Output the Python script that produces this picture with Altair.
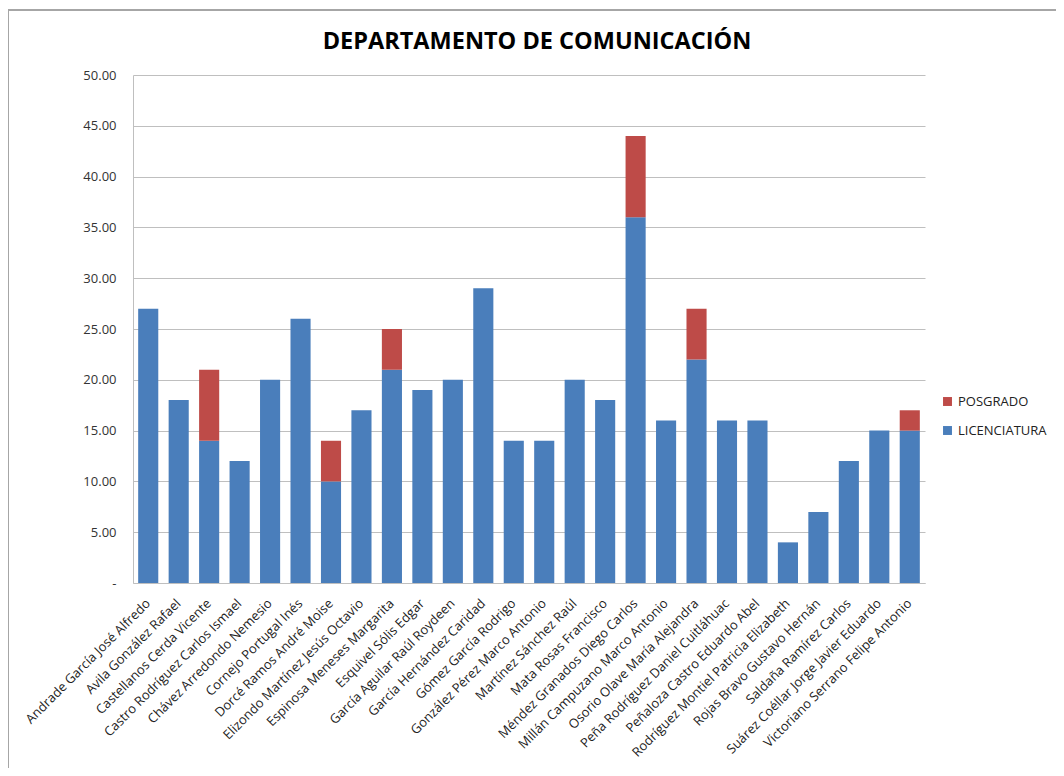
import altair as alt
import pandas as pd

names = [
    "Andrade García José Alfredo", "Avila González Rafael", "Castellanos Cerda Vicente",
    "Castro Rodríguez Carlos Ismael", "Chávez Arredondo Nemesio", "Cornejo Portugal Inés",
    "Dorcé Ramos André Moise", "Elizondo Martínez Jesús Octavio", "Espinosa Meneses Margarita",
    "Esquivel Sólis Edgar", "García Aguilar Raúl Roydeen", "García Hernández Caridad",
    "Gómez García Rodrigo", "González Pérez Marco Antonio", "Martínez Sánchez Raúl",
    "Mata Rosas Francisco", "Méndez Granados Diego Carlos", "Millán Campuzano Marco Antonio",
    "Osorio Olave María Alejandra", "Peña Rodríguez Daniel Cuitláhuac", "Peñaloza Castro Eduardo Abel",
    "Rodríguez Montiel Patricia Elizabeth", "Rojas Bravo Gustavo Hernán", "Saldaña Ramírez Carlos",
    "Suárez Coéllar Jorge Javier Eduardo", "Victoriano Serrano Felipe Antonio",
]
licenciatura = [27, 18, 14, 12, 20, 26, 10, 17, 21, 19, 20, 29, 14, 14, 20, 18, 36, 16, 22, 16, 16, 4, 7, 12, 15, 15]
posgrado = [0, 0, 7, 0, 0, 0, 4, 0, 4, 0, 0, 0, 0, 0, 0, 0, 8, 0, 5, 0, 0, 0, 0, 0, 0, 2]
series = ["LICENCIATURA", "POSGRADO"]
colors = ["#4A7EBB", "#BE4B48"]
title_text = "DEPARTAMENTO DE COMUNICACIÓN"

rows = []
for i, n in enumerate(names):
    rows.append({"name": n, "serie": "LICENCIATURA", "value": licenciatura[i], "ord": 0})
    rows.append({"name": n, "serie": "POSGRADO", "value": posgrado[i], "ord": 1})
df = pd.DataFrame(rows)

font = "Open Sans"

bars = alt.Chart(df).mark_bar().encode(
    x=alt.X("name:N", sort=names, title=None,
            scale=alt.Scale(paddingInner=0.34, paddingOuter=0.17),
            axis=alt.Axis(labelAngle=-45, labelAlign="right", labelBaseline="middle",
                          labelFont=font, labelFontSize=13, labelColor="#222222",
                          labelPadding=18, ticks=False, domainColor="#BFBFBF",
                          labelOverlap=False, labelLimit=0)),
    y=alt.Y("value:Q", stack="zero", title=None,
            scale=alt.Scale(domain=[0, 50], nice=False),
            axis=alt.Axis(values=list(range(0, 55, 5)),
                          labelExpr="datum.value == 0 ? '-' : format(datum.value, '.2f')",
                          labelFont=font, labelFontSize=13, labelColor="#333333",
                          labelPadding=17, ticks=False, domainColor="#BFBFBF",
                          gridColor="#BFBFBF", gridWidth=1)),
    color=alt.Color("serie:N", scale=alt.Scale(domain=series, range=colors),
                    legend=alt.Legend(title=None, orient="none", legendX=808, legendY=320,
                                      values=["POSGRADO", "LICENCIATURA"],
                                      symbolType="square", symbolSize=80,
                                      symbolStrokeWidth=0, rowPadding=15,
                                      labelFont=font, labelFontSize=13, labelColor="#222222")),
    order=alt.Order("ord:Q"),
)

border_src = pd.DataFrame({"k": [0]})
left_border = alt.Chart(border_src).mark_rule(color="#A6A6A6", strokeWidth=2).encode(
    x=alt.value(-125), y=alt.value(-65), y2=alt.value(720))
top_border = alt.Chart(border_src).mark_rule(color="#A6A6A6", strokeWidth=2).encode(
    x=alt.value(-125), x2=alt.value(940), y=alt.value(-65))
title = alt.Chart(border_src).mark_text(
    text=title_text, font=font, fontSize=23.5, fontWeight="bold", color="#000000",
    align="center", baseline="middle").encode(x=alt.value(404), y=alt.value(-33))

chart = alt.layer(left_border, top_border, title, bars).properties(
    width=792, height=508,
    autosize=alt.AutoSizeParams(type="none"),
    padding={"left": 125, "top": 67, "right": 131, "bottom": 185},
).configure_view(stroke=None)

chart.save("out.html", embed_options={"renderer": "svg", "actions": False})
